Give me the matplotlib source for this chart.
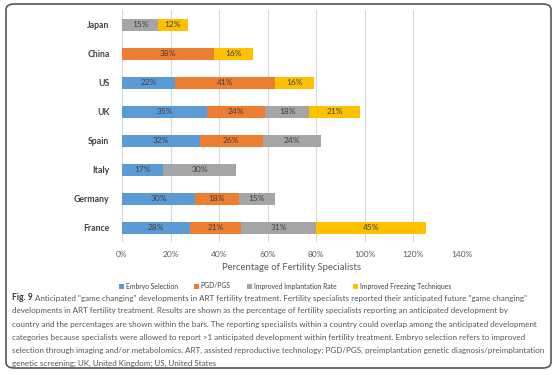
import numpy as np
import matplotlib.pyplot as plt
from matplotlib.patches import FancyBboxPatch

countries = ["Japan", "China", "US", "UK", "Spain", "Italy", "Germany", "France"]
series_names = ["Embryo Selection", "PGD/PGS", "Improved Implantation Rate",
                "Improved Freezing Techniques"]
embryo = [0, 0, 22, 35, 32, 17, 30, 28]
pgd = [0, 38, 41, 24, 26, 0, 18, 21]
implant = [15, 0, 0, 18, 24, 30, 15, 31]
freezing = [12, 16, 16, 21, 0, 0, 0, 45]
xticks = [0, 20, 40, 60, 80, 100, 120, 140]

caption = [
    "Anticipated \"game changing\" developments in ART fertility treatment. Fertility specialists reported their anticipated future \"game changing\"",
    "developments in ART fertility treatment. Results are shown as the percentage of fertility specialists reporting an anticipated development by",
    "country and the percentages are shown within the bars. The reporting specialists within a country could overlap among the anticipated development",
    "categories because specialists were allowed to report >1 anticipated development within fertility treatment. Embryo selection refers to improved",
    "selection through imaging and/or metabolomics. ART, assisted reproductive technology; PGD/PGS, preimplantation genetic diagnosis/preimplantation",
    "genetic screening; UK, United Kingdom; US, United States",
]

colors = ["#5B9BD5", "#ED7D31", "#A5A5A5", "#FFC000"]

plt.rcParams["font.family"] = ["Lato", "DejaVu Sans"]

W, H = 558, 375
fig = plt.figure(figsize=(W / 100, H / 100), dpi=100)
ax = fig.add_axes([122 / W, 1 - 242.5 / H, 340 / W, 232 / H])

y = np.arange(len(countries))
left = np.zeros(len(countries))
for name, vals, col in zip(series_names, [embryo, pgd, implant, freezing], colors):
    vals = np.array(vals, dtype=float)
    bars = ax.barh(y, vals, left=left, height=0.4, color=col, label=name, zorder=3)
    ax.bar_label(bars, labels=[f"{v:.0f}%" if v > 0 else "" for v in vals],
                 label_type="center", fontsize=6, color="#404040")
    left += vals

ax.set_ylim(-0.5, len(countries) - 0.5)
ax.invert_yaxis()
ax.set_xlim(0, 140)
ax.set_xticks(xticks)
ax.set_xticklabels([f"{t}%" for t in xticks])
ax.set_yticks(y)
ax.set_yticklabels(countries, fontweight="bold")
ax.tick_params(axis="y", length=0, pad=9, labelsize=6.3, labelcolor="#404040")
ax.tick_params(axis="x", length=0, pad=6, labelsize=6, labelcolor="#595959")
ax.grid(axis="x", color="#D9D9D9", lw=0.8, zorder=0)
for s in ax.spines.values():
    s.set_visible(False)
ax.set_xlabel("Percentage of Fertility Specialists", fontsize=6.8, color="#595959",
              labelpad=4)

fig.legend(loc="center", bbox_to_anchor=(285 / W, 1 - 286 / H), ncol=4,
           frameon=False, fontsize=4.9, handlelength=0.7, handleheight=0.7,
           handletextpad=0.3, columnspacing=2.4, labelcolor="#404040")

# caption
fs = 5.75
line_y = [298, 311, 324, 337.5, 350.5, 363]
bold = fig.text(12 / W, 1 - line_y[0] / H, "Fig. 9", fontsize=fs + 0.5,
                fontweight="bold", color="#333333", va="center", ha="left")
ax.annotate(caption[0], xy=(1, 0.5), xycoords=bold, xytext=(1.6, 0),
            textcoords="offset points", fontsize=fs, color="#555555",
            va="center", ha="left", annotation_clip=False)
for ln, yy in zip(caption[1:], line_y[1:]):
    fig.text(12 / W, 1 - yy / H, ln, fontsize=fs, color="#555555",
             va="center", ha="left")

frame = FancyBboxPatch((6 / W, 1 - 368 / H), 545 / W, 364 / H,
                       boxstyle="round,pad=0,rounding_size=0.015",
                       transform=fig.transFigure, fill=False,
                       edgecolor="#555555", lw=1.2)
fig.patches.append(frame)

fig.savefig("out.png", dpi=100)
